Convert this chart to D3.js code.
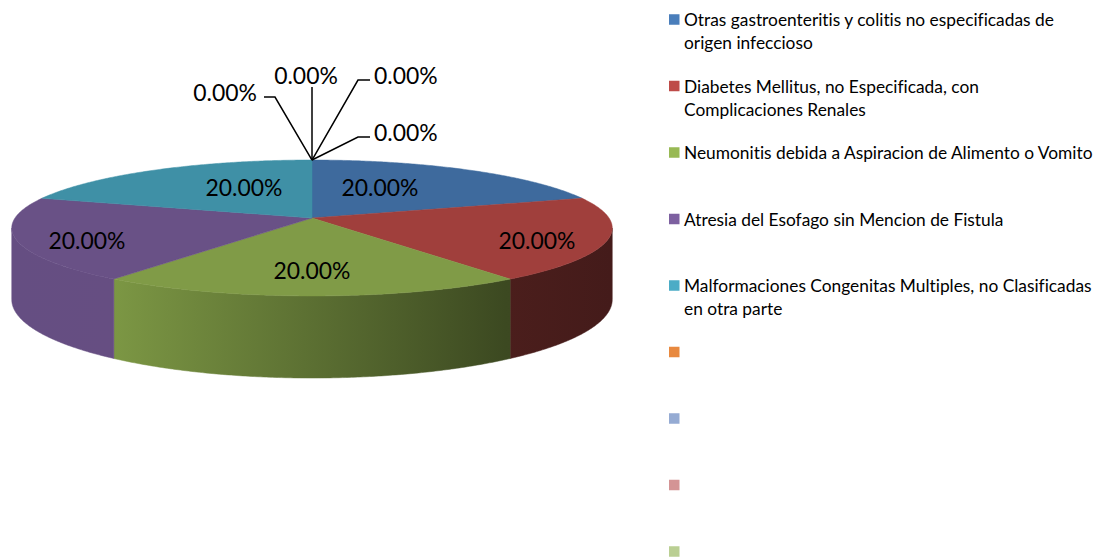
<!DOCTYPE html>
<html>
<head>
<meta charset="utf-8">
<script src="https://cdn.jsdelivr.net/npm/d3@7"></script>
<style>
  html, body { margin: 0; padding: 0; background: #fff; }
  svg { display: block; }
  text { font-variant-ligatures: none; font-feature-settings: "liga" 0; }
</style>
</head>
<body>
<div id="chart"></div>
<script>
const categories = [
    "Otras gastroenteritis y colitis no especificadas de\norigen infeccioso",
    "Diabetes Mellitus, no Especificada, con\nComplicaciones Renales",
    "Neumonitis debida a Aspiracion de Alimento o Vomito",
    "Atresia del Esofago sin Mencion de Fistula",
    "Malformaciones Congenitas Multiples, no Clasificadas\nen otra parte",
    "",
    "",
    "",
    ""
];
const percentages = [20, 20, 20, 20, 20, 0, 0, 0, 0];
const palette = ["#4A7EBB", "#BE4B48", "#98B954", "#7D60A0", "#4BACC6", "#E8893F", "#95ABD3", "#D49495", "#BACF93"];

const width = 1106;
const height = 557;
const font = "Lato, 'Open Sans', sans-serif";

// perspective pie geometry
const cx = 312, cy = 218;
const A = 297, B = 66.5, persp = 0.147, depth = 70;

function project(theta, r, z) {
    const u = r * Math.sin(theta);
    const v = -r * Math.cos(theta);
    const w = 1 - persp * v;
    return [cx + A * u / w, cy + (B * v + z) / w];
}

const svg = d3.select("#chart")
    .append("svg")
    .attr("width", width)
    .attr("height", height)
    .attr("viewBox", [0, 0, width, height]);

const defs = svg.append("defs");

const pie = d3.pie().sort(null).startAngle(0).endAngle(2 * Math.PI).value(d => d);
const arcs = pie(percentages);

const line = d3.line();
const step = Math.PI / 360;

function shade(color, f) {
    const c = d3.rgb(color);
    return d3.rgb(c.r * f, c.g * f, c.b * f).formatHex();
}

function arcPoints(s, e, r, z) {
    const n = Math.max(1, Math.ceil((e - s) / step));
    return d3.range(n + 1).map(k => project(s + (e - s) * k / n, r, z));
}

// light falls from the left
const topLight = 0.84;
const sideLight = d3.scaleLinear().domain([12, 113, 505, 612]).range([0.81, 0.815, 0.395, 0.36]).clamp(true);

// visible side: between the silhouette extremes
const vis0 = Math.acos(-persp);
const vis1 = 2 * Math.PI - vis0;

const sides = svg.append("g").attr("class", "sides");
arcs.forEach((a, i) => {
    const s = Math.max(a.startAngle, vis0);
    const e = Math.min(a.endAngle, vis1);
    if (e <= s) return;

    const grad = defs.append("linearGradient")
        .attr("id", "side" + i)
        .attr("gradientUnits", "userSpaceOnUse")
        .attr("x1", 12).attr("x2", 612)
        .attr("y1", 0).attr("y2", 0);
    sideLight.domain().forEach(x => {
        grad.append("stop")
            .attr("offset", (x - 12) / 600)
            .attr("stop-color", shade(palette[i], sideLight(x)));
    });

    const pts = arcPoints(s, e, 1, 0).concat(arcPoints(s, e, 1, depth).reverse());
    sides.append("path")
        .attr("d", line(pts) + "Z")
        .attr("fill", `url(#side${i})`)
        .attr("stroke", `url(#side${i})`)
        .attr("stroke-width", 0.5);
});

const tops = svg.append("g").attr("class", "tops");
arcs.forEach((a, i) => {
    if (a.endAngle - a.startAngle <= 0) return;
    const pts = [[cx, cy]].concat(arcPoints(a.startAngle, a.endAngle, 1, 0));
    const col = shade(palette[i], topLight);
    tops.append("path")
        .attr("d", line(pts) + "Z")
        .attr("fill", col)
        .attr("stroke", col)
        .attr("stroke-width", 0.5);
});

// data labels
const fmt = v => d3.format(".2f")(v) + "%";
const labels = svg.append("g").attr("class", "labels")
    .attr("font-family", font)
    .attr("fill", "#000");

// size the label font to the reference width
const probe = labels.append("text").attr("font-size", 22).text("20.00%");
const labelSize = 22 * 77 / probe.node().getComputedTextLength();
probe.remove();

arcs.filter(a => a.value > 0).forEach(a => {
    const mid = (a.startAngle + a.endAngle) / 2;
    const r = 0.581 + 0.19 * Math.sin(mid) ** 2 - 0.119 * Math.cos(mid);
    const t = mid - (10 * Math.PI / 180) * Math.sin(2 * mid);
    const [x, y] = project(t, r, 0);
    labels.append("text")
        .attr("x", x)
        .attr("y", y)
        .attr("font-size", labelSize)
        .attr("text-anchor", "middle")
        .attr("dominant-baseline", "central")
        .text(fmt(a.value));
});

// zero slices get leader lines from the rim
const anchor = project(0, 1, 0);
const leaders = [
    {elbow: [46, -23], end: [58, -23], text: [62, -28], anchor: "start"},
    {elbow: [46, -80], end: [58, -80], text: [62, -85], anchor: "start"},
    {elbow: [0, -73], end: [0, -73], text: [-6, -85], anchor: "middle"},
    {elbow: [-37, -63], end: [-48, -63], text: [-55, -68], anchor: "end"}
];
arcs.filter(a => a.value === 0).forEach((a, k) => {
    const L = leaders[k % leaders.length];
    const pts = [anchor, [anchor[0] + L.elbow[0], anchor[1] + L.elbow[1]], [anchor[0] + L.end[0], anchor[1] + L.end[1]]];
    labels.append("path")
        .attr("d", line(pts))
        .attr("fill", "none")
        .attr("stroke", "#000")
        .attr("stroke-width", 1.5);
    labels.append("text")
        .attr("x", anchor[0] + L.text[0])
        .attr("y", anchor[1] + L.text[1])
        .attr("font-size", labelSize)
        .attr("text-anchor", L.anchor)
        .attr("dominant-baseline", "central")
        .text(fmt(a.value));
});

// legend
const legend = svg.append("g").attr("class", "legend").attr("font-family", font).attr("fill", "#000");
const lp = legend.append("text").attr("font-size", 15).text(categories[2]);
const legendSize = 15 * 409 / lp.node().getComputedTextLength();
lp.remove();

categories.forEach((name, i) => {
    const y0 = 19.5 + i * 66.5;
    legend.append("rect")
        .attr("x", 669)
        .attr("y", y0 - 5.25)
        .attr("width", 10.5)
        .attr("height", 10.5)
        .attr("fill", palette[i]);
    name.split("\n").forEach((ln, j) => {
        if (!ln) return;
        legend.append("text")
            .attr("x", 684)
            .attr("y", y0 + j * 23)
            .attr("font-size", legendSize)
            .attr("dominant-baseline", "central")
            .text(ln);
    });
});
</script>
</body>
</html>
